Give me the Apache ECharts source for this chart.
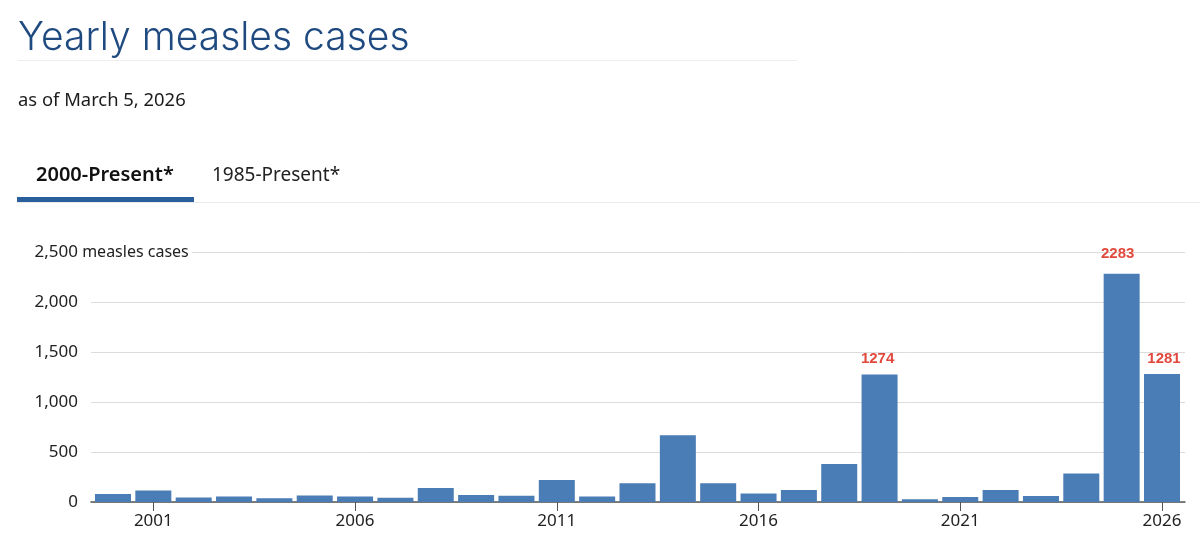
<!DOCTYPE html>
<html>
<head>
<meta charset="utf-8">
<title>Yearly measles cases</title>
<style>
html, body { margin: 0; padding: 0; background: #fff; }
#main { width: 1200px; height: 555px; }
</style>
<script src="https://cdn.jsdelivr.net/npm/echarts@6/dist/echarts.min.js"></script>
</head>
<body>
<div id="main"></div>
<script>
var years = [2000, 2001, 2002, 2003, 2004, 2005, 2006, 2007, 2008, 2009, 2010, 2011, 2012, 2013, 2014, 2015, 2016, 2017, 2018, 2019, 2020, 2021, 2022, 2023, 2024, 2025, 2026];
var cases = [81, 116, 44, 56, 37, 66, 55, 43, 140, 71, 63, 220, 55, 187, 667, 188, 86, 120, 380, 1274, 27, 49, 121, 59, 285, 2283, 1281];
var yearTicks = [2001, 2006, 2011, 2016, 2021, 2026];

// labelled bars: the red numbers sit a bit off centre in the original
var labelled = {
	2019: { distance: 8, offset: [-2, 0] },
	2025: { distance: 12, offset: [-4, 0] },
	2026: { distance: 8, offset: [2, 0] }
};

var barData = years.map(function(year, i) {
	var item = { value: [year, cases[i]] };
	if (labelled[year]) {
		item.label = {
			show: true,
			position: 'top',
			distance: labelled[year].distance,
			offset: labelled[year].offset,
			formatter: String(cases[i]),
			color: '#e2493d',
			fontFamily: '"Liberation Sans", Arial, sans-serif',
			fontWeight: 'bold',
			fontSize: 15
		};
	}
	return item;
});

var font = '"Noto Sans", sans-serif';

var option = {
	animation: false,
	backgroundColor: '#fff',
	title: [
		{ text: 'Yearly measles cases', left: 18, top: 19, padding: 0, textStyle: { fontFamily: 'Inter, sans-serif', fontWeight: 300, fontSize: 39, color: '#1f4a80' } },
		{ text: 'as of March 5, 2026', left: 18, top: 92, padding: 0, textStyle: { fontFamily: font, fontWeight: 400, fontSize: 18.4, color: '#1c1c1c' } },
		{ text: '2000-Present*', left: 36, top: 165, padding: 0, textStyle: { fontFamily: font, fontWeight: 600, fontSize: 20, color: '#111' } },
		{ text: '1985-Present*', left: 212, top: 166, padding: 0, textStyle: { fontFamily: font, fontWeight: 400, fontSize: 19, color: '#222' } }
	],
	grid: { left: 91, right: 15, top: 252, height: 250 },
	xAxis: {
		type: 'value',
		min: 1999.455,
		max: 2026.57,
		splitLine: { show: false },
		axisLine: { show: true, lineStyle: { color: '#555', width: 1.5 } },
		axisTick: { show: true, customValues: yearTicks, length: 9, lineStyle: { color: '#555', width: 1 } },
		axisLabel: {
			customValues: yearTicks,
			margin: 11,
			color: '#222',
			fontFamily: font,
			fontSize: 17,
			formatter: function(v) { return String(v); }
		}
	},
	yAxis: {
		type: 'value',
		min: 0,
		max: 2500,
		interval: 500,
		axisLine: { show: false },
		axisTick: { show: false },
		splitLine: { lineStyle: { color: '#dcdcdc', width: 1 } },
		axisLabel: {
			margin: 13,
			color: '#222',
			fontFamily: font,
			fontSize: 17,
			formatter: function(v) { return v.toLocaleString('en-US'); }
		}
	},
	series: [{
		type: 'bar',
		barWidth: 36,
		itemStyle: { color: '#4a7cb5' },
		data: barData
	}],
	graphic: [
		// rule under the title and the tab strip
		{ type: 'rect', shape: { x: 18, y: 60, width: 779, height: 1 }, style: { fill: '#eeeeee' } },
		{ type: 'rect', shape: { x: 17, y: 202, width: 1183, height: 1 }, style: { fill: '#eaeaea' } },
		{ type: 'rect', shape: { x: 17, y: 197, width: 177, height: 5 }, style: { fill: '#2a5f9e' } },
		// unit next to the top tick, white box hides the start of the gridline
		{
			type: 'text',
			z: 10,
			x: 78,
			y: 244,
			style: {
				text: ' measles cases',
				fill: '#222',
				font: '16px ' + font,
				backgroundColor: '#fff',
				padding: [0, 3, 0, 0]
			}
		}
	]
};

var myChart = echarts.init(document.getElementById('main'));
myChart.setOption(option);
</script>
</body>
</html>
